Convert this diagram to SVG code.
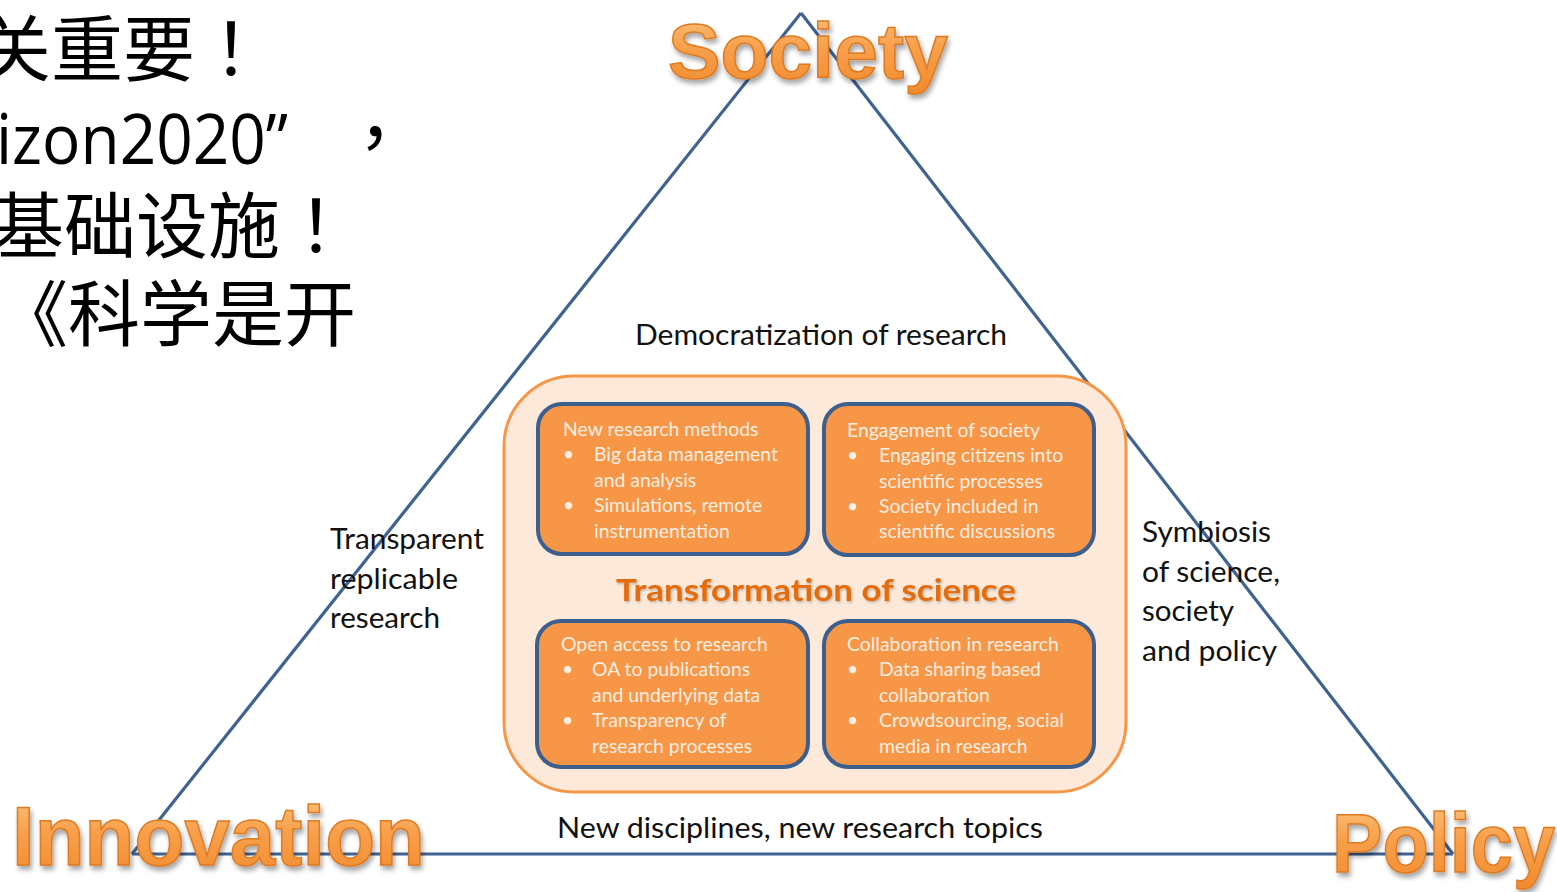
<svg xmlns="http://www.w3.org/2000/svg" width="1557" height="892" viewBox="0 0 1557 892">
<defs>
<linearGradient id="og" x1="0" y1="0" x2="0" y2="1">
<stop offset="0" stop-color="#fcc884"/>
<stop offset="0.45" stop-color="#f8a04c"/>
<stop offset="1" stop-color="#f08a2c"/>
</linearGradient>
<filter id="sh" x="-10%" y="-20%" width="120%" height="150%">
<feDropShadow dx="2" dy="4" stdDeviation="2.5" flood-color="#000" flood-opacity="0.35"/>
</filter>
<filter id="sh2" x="-5%" y="-20%" width="110%" height="150%">
<feDropShadow dx="1" dy="1.5" stdDeviation="1" flood-color="#000" flood-opacity="0.25"/>
</filter>
</defs>
<style>
.cjk{font-family:"Noto Sans CJK SC",sans-serif;font-size:72px;fill:#000}
.tc{font-family:"Noto Sans CJK TC",sans-serif}
.lat{font-family:"Open Sans","Liberation Sans",sans-serif;font-size:70px;fill:#000}
.big{font-family:"Liberation Sans",sans-serif;font-weight:bold;fill:url(#og);stroke:#de7a20;stroke-width:1.5;filter:url(#sh)}
.edge{stroke:#3f6290;stroke-width:3.2;fill:none}
.lbl{font-family:Lato,"Liberation Sans",sans-serif;font-size:28px;fill:#111}
.box{fill:#f79646;stroke:#3c5f8d;stroke-width:4}
.bt{font-family:Lato,"Liberation Sans",sans-serif;font-size:19.4px;fill:#fdeee2}
</style>
<rect width="1557" height="892" fill="#fff"/>

<g id="left-text">
<text class="cjk" x="-21" y="75">关重要<tspan class="tc">！</tspan></text>
<text class="lat" x="-4" y="164" textLength="292" lengthAdjust="spacingAndGlyphs">izon2020”</text>
<text class="cjk tc" x="339" y="164">，</text>
<text class="cjk" x="-8" y="252">基础设施<tspan class="tc">！</tspan></text>
<text class="cjk" x="-4" y="340" font-size="68">《科学是开</text>
</g>

<g id="connectors">
<line class="edge" x1="801" y1="13" x2="132" y2="854"/>
<line class="edge" x1="801" y1="13" x2="1453" y2="854"/>
<line class="edge" x1="132" y1="854" x2="1453" y2="854"/>
</g>

<g id="core">
<rect x="504" y="376" width="622" height="416" rx="70" fill="#fde9d9" stroke="#f79646" stroke-width="3"/>
<text x="816" y="601" text-anchor="middle" font-family="Lato,'Liberation Sans',sans-serif" font-weight="bold" font-size="31" fill="#e46c0a" textLength="400" lengthAdjust="spacingAndGlyphs" filter="url(#sh2)">Transformation of science</text>
</g>

<g id="box-methods">
<rect class="box" x="538" y="404" width="270" height="150" rx="24"/>
<text class="bt"><tspan x="563" y="436">New research methods</tspan><tspan x="563" y="461">•</tspan><tspan x="594" y="461">Big data management</tspan><tspan x="594" y="487">and analysis</tspan><tspan x="563" y="512">•</tspan><tspan x="594" y="512">Simulations, remote</tspan><tspan x="594" y="538">instrumentation</tspan></text>
</g>

<g id="box-engagement">
<rect class="box" x="824" y="404" width="270" height="151" rx="24"/>
<text class="bt"><tspan x="847" y="437">Engagement of society</tspan><tspan x="847" y="462">•</tspan><tspan x="879" y="462">Engaging citizens into</tspan><tspan x="879" y="488">scientific processes</tspan><tspan x="847" y="513">•</tspan><tspan x="879" y="513">Society included in</tspan><tspan x="879" y="538">scientific discussions</tspan></text>
</g>

<g id="box-openaccess">
<rect class="box" x="537" y="621" width="271" height="146" rx="24"/>
<text class="bt"><tspan x="561" y="651">Open access to research</tspan><tspan x="562" y="676">•</tspan><tspan x="592" y="676">OA to publications</tspan><tspan x="592" y="702">and underlying data</tspan><tspan x="562" y="727">•</tspan><tspan x="592" y="727">Transparency of</tspan><tspan x="592" y="753">research processes</tspan></text>
</g>

<g id="box-collaboration">
<rect class="box" x="824" y="621" width="270" height="146" rx="24"/>
<text class="bt"><tspan x="847" y="651">Collaboration in research</tspan><tspan x="847" y="676">•</tspan><tspan x="879" y="676">Data sharing based</tspan><tspan x="879" y="702">collaboration</tspan><tspan x="847" y="727">•</tspan><tspan x="879" y="727">Crowdsourcing, social</tspan><tspan x="879" y="753">media in research</tspan></text>
</g>

<g id="labels">
<text class="lbl" x="635" y="345" textLength="372" lengthAdjust="spacingAndGlyphs">Democratization of research</text>
<text class="lbl" x="330" y="549" textLength="154" lengthAdjust="spacingAndGlyphs">Transparent</text>
<text class="lbl" x="330" y="589" textLength="128" lengthAdjust="spacingAndGlyphs">replicable</text>
<text class="lbl" x="330" y="628" textLength="110" lengthAdjust="spacingAndGlyphs">research</text>
<text class="lbl" x="1142" y="542" textLength="129" lengthAdjust="spacingAndGlyphs">Symbiosis</text>
<text class="lbl" x="1142" y="582" textLength="138" lengthAdjust="spacingAndGlyphs">of science,</text>
<text class="lbl" x="1142" y="621" textLength="92" lengthAdjust="spacingAndGlyphs">society</text>
<text class="lbl" x="1142" y="661" textLength="135" lengthAdjust="spacingAndGlyphs">and policy</text>
<text class="lbl" x="557" y="838" textLength="486" lengthAdjust="spacingAndGlyphs">New disciplines, new research topics</text>
</g>

<g id="society">
<text class="big" x="668" y="78" font-size="78" textLength="280" lengthAdjust="spacingAndGlyphs">Society</text>
</g>
<g id="innovation">
<text class="big" x="12" y="865" font-size="84" textLength="413" lengthAdjust="spacingAndGlyphs">Innovation</text>
</g>
<g id="policy">
<text class="big" x="1332" y="872" font-size="84" textLength="223" lengthAdjust="spacingAndGlyphs">Policy</text>
</g>
</svg>
